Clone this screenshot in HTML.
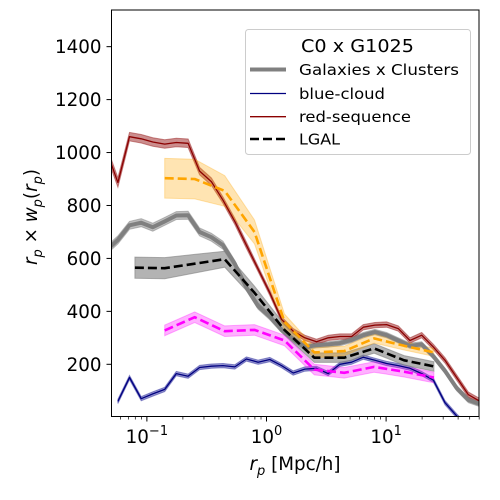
<!DOCTYPE html>
<html><head><meta charset="utf-8"><style>
html,body{margin:0;padding:0;background:#fff;}
svg{display:block;font-family:"DejaVu Sans","Liberation Sans",sans-serif;}
</style></head><body>
<svg id="chart" width="500" height="500" viewBox="0 0 500 500" xmlns="http://www.w3.org/2000/svg">
<defs><clipPath id="plotclip"><rect x="111.5" y="10" width="367.5" height="406.5"/></clipPath></defs>
<rect x="0" y="0" width="500" height="500" fill="#fff"/>
<g id="series" clip-path="url(#plotclip)"></g>
<g id="axes"></g>
<g id="legend"></g>
</svg>
<script>
// ---- data ----
const rpMeasured = [0.0457,0.0572,0.0716,0.0897,0.112,0.141,0.176,0.221,0.276,0.346,0.433,0.543,0.679,0.851,1.066,1.334,1.671,2.092,2.620,3.281,4.108,5.144,6.442,8.067,10.10,12.65,15.84,19.83,24.84,31.10,38.94,48.77,61.07];
const galClu = [630,670,725,735,718,740,762,763,700,680,650,580,490,420,380,330,295,265,272,275,280,292,310,322,310,290,270,275,230,175,110,65,50];
const galCluErr = [15,15,15,15,15,15,15,15,15,15,15,12,12,12,12,10,10,10,10,10,10,10,10,10,10,10,10,10,10,10,10,10,10];
const blueCloud = [null,60,150,70,88,105,165,155,188,193,195,190,220,208,218,195,167,182,185,165,200,208,227,215,203,195,185,165,140,55,5,-40,-60];
const blueErr = [8,8,8,8,8,8,8,8,8,8,8,8,8,8,8,8,8,8,8,8,8,8,8,8,8,8,8,8,8,8,8,8,8];
const redSeq = [1010,887,1060,1052,1040,1032,1038,1035,930,890,820,740,650,560,470,370,325,300,285,300,305,305,340,348,350,335,290,310,265,215,150,85,60];
const redErr = [18,18,16,16,16,16,16,16,14,14,12,12,12,10,10,10,10,10,10,10,10,10,10,10,10,10,10,10,10,10,10,10,10];
const rpModel = [0.0794,0.141,0.251,0.447,0.794,1.413,2.512,4.467,7.943,14.13,25.12];
const lgalAll = [565,563,580,597,470,330,225,225,260,215,192];
const lgalAllErr = [40,40,35,30,25,20,18,18,18,18,18];
const lgalRed = [null,903,900,855,700,360,245,250,298,270,245];
const lgalRedErr = [0,75,75,58,45,30,20,18,18,16,15];
const lgalBlue = [null,328,378,325,330,290,180,168,190,172,150];
const lgalBlueErr = [0,20,20,20,20,20,20,20,20,20,20];
const yTicks = [200,400,600,800,1000,1200,1400];
const xTickExps = [-1,0,1];

// ---- scales ----
const X0=111.5, X1=479, LOGMIN=Math.log10(0.0506), LOGMAX=Math.log10(59.8);
function xs(v){return X0+(Math.log10(v)-LOGMIN)/(LOGMAX-LOGMIN)*(X1-X0);}
function ys(v){return 364.3-(v-200)*0.2647;}
const NS="http://www.w3.org/2000/svg";
function mk(tag,attrs,parent){const e=document.createElementNS(NS,tag);for(const k in attrs)e.setAttribute(k,attrs[k]);parent.appendChild(e);return e;}
const S=document.getElementById('series');

function band(xv,yv,ev,fill,op,name){
  const up=[],lo=[];
  for(let i=0;i<xv.length;i++){if(yv[i]===null)continue;up.push([xs(xv[i]),ys(yv[i]+ev[i])]);lo.push([xs(xv[i]),ys(yv[i]-ev[i])]);}
  const pts=up.concat(lo.reverse()).map(p=>p[0].toFixed(1)+','+p[1].toFixed(1)).join(' ');
  const p=mk('polygon',{points:pts,fill:fill,'fill-opacity':op,stroke:fill,'stroke-opacity':op,'stroke-width':1},S);
  
  
}
function line(xv,yv,color,w,dash,name){
  const pts=[];
  for(let i=0;i<xv.length;i++){if(yv[i]===null)continue;pts.push(xs(xv[i]).toFixed(1)+','+ys(yv[i]).toFixed(1));}
  const a={points:pts.join(' '),fill:'none',stroke:color,'stroke-width':w,'stroke-linejoin':'round'};
  if(dash)a['stroke-dasharray']=dash;
  const p=mk('polyline',a,S);
  
  
}
band(rpMeasured,galClu,galCluErr,'#808080',0.5,'galaxies-clusters-band');
band(rpMeasured,blueCloud,blueErr,'#3030a0',0.5,'blue-cloud-band');
band(rpMeasured,redSeq,redErr,'#a03030',0.55,'red-sequence-band');
band(rpModel,lgalAll,lgalAllErr,'#808080',0.6,'lgal-all-band');
band(rpModel,lgalRed,lgalRedErr,'#ffa500',0.3,'lgal-red-band');
band(rpModel,lgalBlue,lgalBlueErr,'#ff00ff',0.3,'lgal-blue-band');
line(rpMeasured,galClu,'#808080',4,null,'galaxies-clusters-line');
line(rpMeasured,blueCloud,'#000080',1.3,null,'blue-cloud-line');
line(rpMeasured,redSeq,'#8b0000',1.3,null,'red-sequence-line');
line(rpModel,lgalAll,'#000000',2.6,'9,4','lgal-all-line');
line(rpModel,lgalRed,'#ffa500',2.6,'9,4','lgal-red-line');
line(rpModel,lgalBlue,'#ff00ff',2.6,'9,4','lgal-blue-line');

// ---- axes ----
const A=document.getElementById('axes');
const frame=mk('rect',{x:X0,y:10,width:X1-X0,height:406.5,fill:'none',stroke:'#000','stroke-width':1},A);


for(const t of yTicks){
  const y=ys(t);
  const tk=mk('line',{x1:X0-5,x2:X0,y1:y,y2:y,stroke:'#000','stroke-width':1},A);
  
  
  const tx=mk('text',{x:X0-10,y:y+6.5,'text-anchor':'end','font-size':18.3,fill:'#000'},A);
  tx.textContent=String(t);
  
  
}
for(let e=-2;e<=1;e++){
  for(let m=1;m<10;m++){
    const v=m*Math.pow(10,e);const x=xs(v);
    if(x<X0-0.5||x>X1+0.5)continue;
    const major=(m===1);
    const tk=mk('line',{x1:x,x2:x,y1:416.5,y2:416.5+(major?5:3),stroke:'#000','stroke-width':major?1:0.7},A);
    
    
  }
}
for(const e of xTickExps){
  const x=xs(Math.pow(10,e));
  const tx=mk('text',{x:x,y:443,'text-anchor':'middle','font-size':18.3,fill:'#000'},A);
  tx.innerHTML='10<tspan dy="-8" font-size="13">'+(e<0?'\u2212':'')+Math.abs(e)+'</tspan>';
  
  
}
const xl=mk('text',{x:295,y:470,'text-anchor':'middle','font-size':18.3,fill:'#000'},A);
xl.innerHTML='<tspan font-style="italic">r</tspan><tspan font-style="italic" font-size="13" dy="5">p</tspan><tspan dy="-5"> [Mpc/h]</tspan>';


const yl=mk('text',{x:0,y:0,'text-anchor':'middle','font-size':18.3,fill:'#000',transform:'translate(37,217) rotate(-90)'},A);
yl.innerHTML='<tspan font-style="italic">r</tspan><tspan font-style="italic" font-size="13" dy="5">p</tspan><tspan dy="-5"> \u00d7 </tspan><tspan font-style="italic">w</tspan><tspan font-style="italic" font-size="13" dy="5">p</tspan><tspan dy="-5">(</tspan><tspan font-style="italic">r</tspan><tspan font-style="italic" font-size="13" dy="5">p</tspan><tspan dy="-5">)</tspan>';


</script>
<script>
// ---- legend ----
(function(){
const NS="http://www.w3.org/2000/svg";
const L=document.getElementById('legend');
function mk(tag,attrs){const e=document.createElementNS(NS,tag);for(const k in attrs)e.setAttribute(k,attrs[k]);L.appendChild(e);return e;}
const box=mk('rect',{x:245.5,y:29.5,width:225,height:125,rx:3,fill:'#fff','fill-opacity':0.8,stroke:'#cccccc','stroke-width':1});


const ti=mk('text',{x:301,y:52,'font-size':17.5,fill:'#000',textLength:113,lengthAdjust:'spacingAndGlyphs'});
ti.textContent='C0 x G1025';


const entries=[
 ['Galaxies x Clusters',69.5,75,'#808080',4,null,160,'legend-entry-galaxies-clusters'],
 ['blue-cloud',93.5,99,'#000080',1.3,null,86,'legend-entry-blue-cloud'],
 ['red-sequence',116.7,122,'#8b0000',1.3,null,112,'legend-entry-red-sequence'],
 ['LGAL',139,144.5,'#000000',2.6,'9,4',41,'legend-entry-lgal']
];
for(const en of entries){
  const a={x1:250,x2:286,y1:en[1],y2:en[1],stroke:en[3],'stroke-width':en[4]};
  if(en[5])a['stroke-dasharray']=en[5];
  const ln=mk('line',a);
  
  
  const t=mk('text',{x:299,y:en[2],'font-size':15.5,fill:'#000',textLength:en[6],lengthAdjust:'spacingAndGlyphs'});
  t.textContent=en[0];
  
  
}
})();
</script>
</body></html>
